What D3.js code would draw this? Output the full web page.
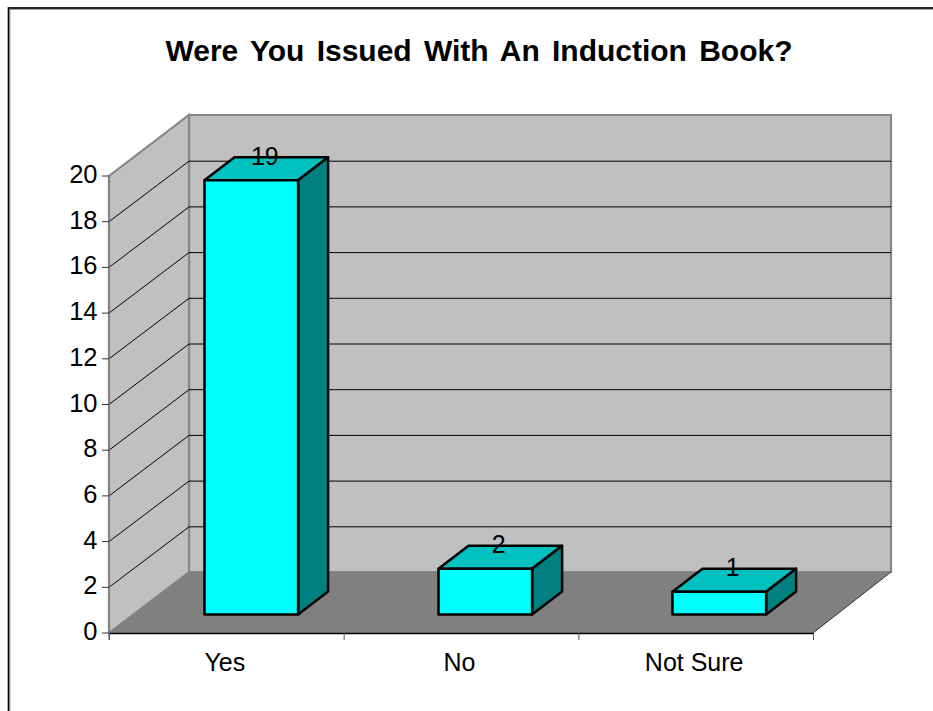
<!DOCTYPE html>
<html><head><meta charset="utf-8">
<script src="https://cdn.jsdelivr.net/npm/d3@7/dist/d3.min.js"></script>
<style>html,body{margin:0;padding:0;background:#fff}svg{display:block}text{font-family:"Liberation Sans",Arial,sans-serif;fill:#000}</style>
</head><body><svg id="c" width="933" height="711"></svg>
<script>
const chartTitle = "Were You Issued With An Induction Book?";
const categories = ["Yes", "No", "Not Sure"];
const values = [19, 2, 1];
const yTicks = [0, 2, 4, 6, 8, 10, 12, 14, 16, 18, 20];

const svg = d3.select("#c");
const frontL = 109, frontR = 813, frontB = 633, frontT = 176;
const depthX = 80, depthY = -61;
const barInsetX = 25.3, barInsetY = -18.5, barDepthX = 30, barDepthY = -23;

const x = d3.scaleBand().domain(categories).range([frontL, frontR - 2]).paddingInner(0.6).paddingOuter(0.3);
const y = d3.scaleLinear().domain([0, 20]).range([frontB, frontT]);
const poly = pts => pts.map(p => p.join(",")).join(" ");

// frame: top and left edges only, the right and bottom fall outside the picture
svg.append("path").attr("d", "M9,711V8.5H933").attr("fill", "none").attr("stroke", "#a0a0a0").attr("stroke-width", 3);
svg.append("path").attr("d", "M8.5,711V8H933").attr("fill", "none").attr("stroke", "#000").attr("stroke-width", 1.3);

// walls
const wallStroke = "#868686";
const backR = frontR + depthX - 2;
svg.append("polygon").attr("fill", "#c0c0c0").attr("stroke", wallStroke).attr("stroke-width", 2.2)
  .attr("points", poly([[frontL + depthX, y(0) + depthY], [backR, y(0) + depthY], [backR, y(20) + depthY], [frontL + depthX, y(20) + depthY]]));
svg.append("polygon").attr("fill", "#c0c0c0").attr("stroke", wallStroke).attr("stroke-width", 2.2)
  .attr("points", poly([[frontL, y(0)], [frontL + depthX, y(0) + depthY], [frontL + depthX, y(20) + depthY], [frontL, y(20)]]));
svg.append("polygon").attr("fill", "#808080")
  .attr("points", poly([[frontL, y(0)], [frontR, y(0)], [backR, y(0) + depthY], [frontL + depthX, y(0) + depthY]]));

// gridlines
const gridVals = yTicks.filter(t => t > 0 && t < 20);
svg.append("g").selectAll("path").data(gridVals).join("path")
  .attr("fill", "none").attr("stroke", "#000").attr("stroke-width", 1)
  .attr("d", t => d3.line()([[frontL, y(t)], [frontL + depthX, y(t) + depthY + .5], [backR, y(t) + depthY + .5]]));

// axes lines
svg.append("line").attr("x1", frontL).attr("x2", frontR).attr("y1", frontB + .5).attr("y2", frontB + .5).attr("stroke", "#000").attr("stroke-width", 1.4);
svg.append("line").attr("x1", frontR).attr("x2", backR).attr("y1", frontB).attr("y2", frontB + depthY).attr("stroke", "#333").attr("stroke-width", 1);
svg.append("line").attr("x1", frontL).attr("x2", frontL).attr("y1", frontT).attr("y2", frontB + 7).attr("stroke", "#808080").attr("stroke-width", 1.5);

// y ticks + labels
const yG = svg.append("g");
yG.selectAll("line").data(yTicks).join("line")
  .attr("x1", frontL - 7).attr("x2", frontL).attr("y1", y).attr("y2", y).attr("stroke", "#333");
yG.selectAll("text").data(yTicks).join("text")
  .attr("x", frontL - 11.5).attr("y", d => y(d) + 7).attr("text-anchor", "end").attr("font-size", 25.5).text(d => d);

// x ticks + labels
const tickX = d3.scaleLinear().domain([0, categories.length]).range([frontL, frontR]);
const tickPos = d3.range(categories.length + 1).map(tickX);
svg.append("g").selectAll("line").data(tickPos).join("line")
  .attr("x1", d => d + .5).attr("x2", d => d + .5).attr("y1", frontB).attr("y2", frontB + 7).attr("stroke", "#555");
svg.append("g").selectAll("text").data(categories).join("text")
  .attr("x", (d, i) => tickX(i + .5) - 1.5).attr("y", 671).attr("text-anchor", "middle").attr("font-size", 25).text(d => d);

// bars
const rows = categories.map((c, i) => ({c, v: values[i]}));
const bars = svg.append("g").selectAll("g").data(rows).join("g")
  .attr("stroke", "#000").attr("stroke-width", 2.5).attr("stroke-linejoin", "round");
const L = d => x(d.c) + barInsetX, R = d => L(d) + x.bandwidth();
const B = () => y(0) + barInsetY, T = d => y(d.v) + barInsetY;
bars.append("polygon").attr("fill", "#00c0c0").attr("points", d => poly([[L(d), T(d)], [L(d) + barDepthX, T(d) + barDepthY], [R(d) + barDepthX, T(d) + barDepthY], [R(d), T(d)]]));
bars.append("polygon").attr("fill", "#008080").attr("points", d => poly([[R(d), T(d)], [R(d) + barDepthX, T(d) + barDepthY], [R(d) + barDepthX, B() + barDepthY], [R(d), B()]]));
bars.append("polygon").attr("fill", "#00ffff").attr("points", d => poly([[L(d), T(d)], [R(d), T(d)], [R(d), B()], [L(d), B()]]));
svg.append("g").selectAll("text").data(rows).join("text")
  .attr("x", d => (L(d) + R(d)) / 2 + barDepthX / 2 - 1.5).attr("y", d => T(d) + barDepthY + 7.5).attr("text-anchor", "middle").attr("font-size", 25).text(d => d.v);

svg.append("text").attr("x", 479).attr("y", 61).attr("text-anchor", "middle").attr("font-size", 30).attr("word-spacing", 3.9).attr("font-weight", "bold").text(chartTitle);
</script></body></html>
